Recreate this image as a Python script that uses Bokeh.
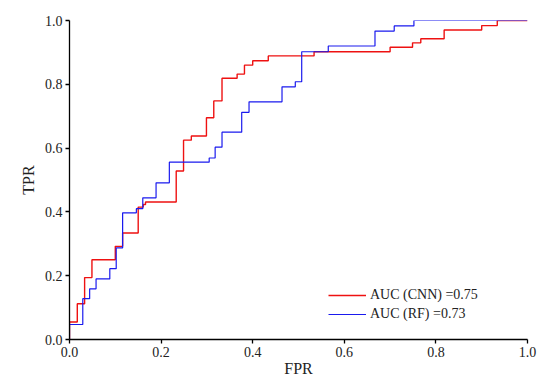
from bokeh.plotting import figure
from bokeh.models import FixedTicker, NumeralTickFormatter, Legend, LegendItem, Range1d
from bokeh.embed import file_html
from bokeh.resources import INLINE

# ROC corner points
cnn_fpr = [0, 0, 0.017, 0.017, 0.033, 0.033, 0.049, 0.049, 0.10, 0.10, 0.116, 0.116, 0.15, 0.15,
           0.161, 0.161, 0.166, 0.166, 0.233, 0.233, 0.249, 0.249, 0.266, 0.266, 0.299, 0.299,
           0.315, 0.315, 0.333, 0.333, 0.366, 0.366, 0.382, 0.382, 0.40, 0.40, 0.434, 0.434,
           0.534, 0.534, 0.70, 0.70, 0.749, 0.749, 0.767, 0.767, 0.818, 0.818, 0.90, 0.90,
           0.934, 0.934, 1.0]
cnn_tpr = [0, 0.055, 0.055, 0.112, 0.112, 0.194, 0.194, 0.25, 0.25, 0.292, 0.292, 0.334, 0.334, 0.415,
           0.415, 0.423, 0.423, 0.431, 0.431, 0.528, 0.528, 0.625, 0.625, 0.638, 0.638, 0.695,
           0.695, 0.748, 0.748, 0.819, 0.819, 0.832, 0.832, 0.86, 0.86, 0.874, 0.874, 0.889,
           0.889, 0.902, 0.902, 0.916, 0.916, 0.93, 0.93, 0.943, 0.943, 0.97, 0.97, 0.984,
           0.984, 1.0, 1.0]

rf_fpr = [0, 0, 0.029, 0.029, 0.044, 0.044, 0.058, 0.058, 0.088, 0.088, 0.102, 0.102, 0.116, 0.116,
          0.146, 0.146, 0.16, 0.16, 0.189, 0.189, 0.218, 0.218, 0.305, 0.305, 0.318, 0.318,
          0.333, 0.333, 0.376, 0.376, 0.392, 0.392, 0.464, 0.464, 0.493, 0.493, 0.507, 0.507,
          0.565, 0.565, 0.667, 0.667, 0.709, 0.709, 0.752, 0.752, 1.0]
rf_tpr = [0, 0.047, 0.047, 0.128, 0.128, 0.159, 0.159, 0.19, 0.19, 0.222, 0.222, 0.287, 0.287, 0.397,
          0.397, 0.41, 0.41, 0.444, 0.444, 0.491, 0.491, 0.556, 0.556, 0.569, 0.569, 0.603,
          0.603, 0.65, 0.65, 0.712, 0.712, 0.745, 0.745, 0.792, 0.792, 0.808, 0.808, 0.902,
          0.902, 0.92, 0.92, 0.967, 0.967, 0.983, 0.983, 1.0, 1.0]

tick_values = [0.0, 0.2, 0.4, 0.6, 0.8, 1.0]
labels = ["AUC (CNN) =0.75", "AUC (RF) =0.73"]

FONT = "Liberation Serif"

p = figure(width=550, height=385, output_backend="svg", toolbar_location=None,
           x_range=Range1d(0, 1), y_range=Range1d(0, 1),
           min_border_left=69, min_border_right=23, min_border_top=20, min_border_bottom=46)
p.outline_line_color = None
p.xgrid.visible = False
p.ygrid.visible = False

r_cnn = p.line(cnn_fpr, cnn_tpr, line_color="#ee1111", line_width=1.4)
r_rf = p.line(rf_fpr, rf_tpr, line_color="#1a1aee", line_width=1.2)

for ax in (p.xaxis[0], p.yaxis[0]):
    ax.ticker = FixedTicker(ticks=tick_values)
    ax.formatter = NumeralTickFormatter(format="0.0")
    ax.axis_line_color = "black"
    ax.axis_line_width = 1.3
    ax.major_tick_line_color = "black"
    ax.major_tick_line_width = 1.3
    ax.major_tick_out = 4
    ax.major_tick_in = 0
    ax.minor_tick_line_color = None
    ax.major_label_text_font = FONT
    ax.major_label_text_font_size = "14px"
    ax.major_label_text_color = "#222222"
    ax.axis_label_text_font = FONT
    ax.axis_label_text_font_size = "16px"
    ax.axis_label_text_font_style = "normal"
    ax.axis_label_text_color = "#222222"

p.xaxis.axis_label = "FPR"
p.yaxis.axis_label = "TPR"
p.xaxis.major_label_standoff = 3
p.xaxis.axis_label_standoff = 0
p.yaxis.major_label_standoff = 3
p.yaxis.axis_label_standoff = 5

legend = Legend(items=[LegendItem(label=labels[0], renderers=[r_cnn]),
                       LegendItem(label=labels[1], renderers=[r_rf])],
                location=(259, 16))
legend.border_line_color = None
legend.background_fill_alpha = 0
legend.label_text_font = FONT
legend.label_text_font_size = "14px"
legend.label_text_color = "#222222"
legend.glyph_width = 38
legend.glyph_height = 18
legend.label_height = 18
legend.spacing = 1
legend.padding = 4
legend.label_standoff = 4
p.add_layout(legend)

open("out.html", "w").write(file_html(p, INLINE))
